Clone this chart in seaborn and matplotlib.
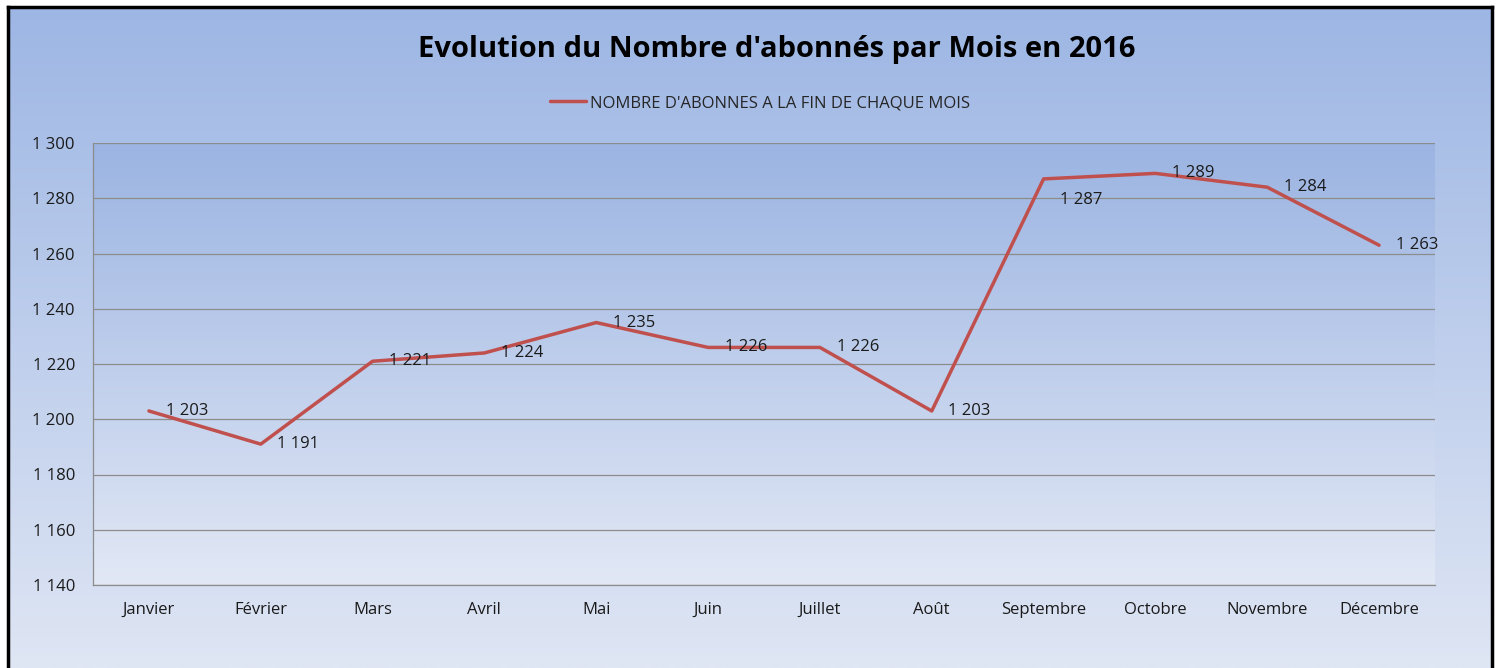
import matplotlib
matplotlib.use('Agg')
import numpy as np
import pandas as pd
import seaborn as sns
import matplotlib.pyplot as plt
from matplotlib.colors import LinearSegmentedColormap
from matplotlib.ticker import FuncFormatter, MultipleLocator

sns.set_style("white")
plt.rcParams['font.family'] = ['Open Sans', 'DejaVu Sans']

# --- Data ---
months = ['Janvier', 'Février', 'Mars', 'Avril', 'Mai', 'Juin', 'Juillet',
          'Août', 'Septembre', 'Octobre', 'Novembre', 'Décembre']
subscribers = [1203, 1191, 1221, 1224, 1235, 1226, 1226, 1203, 1287, 1289, 1284, 1263]
series_name = "NOMBRE D'ABONNES A LA FIN DE CHAQUE MOIS"

df = pd.DataFrame({'mois': months, 'abonnes': subscribers})


def fmt_thousands(v):
    v = int(v)
    return f"{v // 1000} {v % 1000:03d}"


fig = plt.figure(figsize=(14.98, 6.68), dpi=100)
fig.patch.set_facecolor('white')

# outer chart frame with vertical gradient
bg = fig.add_axes([8 / 1498, 0, (1492 - 8) / 1498, (668 - 7) / 668], zorder=0)
outer_cmap = LinearSegmentedColormap.from_list('outer', ['#9db6e4', '#dfe6f4'])
bg.imshow(np.linspace(0, 1, 256).reshape(-1, 1), cmap=outer_cmap, aspect='auto',
          extent=[0, 1, 0, 1])
bg.set_xticks([])
bg.set_yticks([])
for side in ['left', 'top', 'right']:
    bg.spines[side].set_color('black')
    bg.spines[side].set_linewidth(2.5)
bg.spines['bottom'].set_visible(False)

# plot area
ax = fig.add_axes([93 / 1498, 1 - 585 / 668, (1435 - 93) / 1498, (585 - 143) / 668], zorder=1)
plot_cmap = LinearSegmentedColormap.from_list('plot', ['#9bb4e2', '#e2e8f5'])
ax.imshow(np.linspace(0, 1, 256).reshape(-1, 1), cmap=plot_cmap, aspect='auto',
          extent=[0, 1, 0, 1], transform=ax.transAxes, zorder=0)

sns.lineplot(data=df, x='mois', y='abonnes', ax=ax, color='#c0504d', linewidth=2.5,
             sort=False, label=series_name, zorder=3)

# data labels to the right of each point (Septembre's sits a bit lower)
for i, v in enumerate(subscribers):
    dy = -15 if months[i] == 'Septembre' else 0
    ax.annotate(fmt_thousands(v), (i, v), xytext=(12, dy),
                textcoords='offset points', va='center', ha='left',
                fontsize=12, color='#1a1a1a', zorder=4)

ax.set_xlim(-0.5, 11.5)
ax.set_ylim(1140, 1300)
ax.yaxis.set_major_locator(MultipleLocator(20))
ax.yaxis.set_major_formatter(FuncFormatter(lambda y, p: fmt_thousands(y)))
ax.grid(axis='y', color='#8c8c8c', linewidth=0.9, zorder=1)
ax.set_axisbelow(False)
ax.tick_params(axis='y', length=0, pad=13, labelsize=12, labelcolor='#1a1a1a')
ax.tick_params(axis='x', length=0, pad=12, labelsize=12, labelcolor='#1a1a1a')
ax.set_xlabel('')
ax.set_ylabel('')
for side in ['top', 'right']:
    ax.spines[side].set_visible(False)
for side in ['left', 'bottom']:
    ax.spines[side].set_color('#8c8c8c')
    ax.spines[side].set_linewidth(0.9)
ax.patch.set_alpha(0)

ax.legend(loc='center', bbox_to_anchor=(760 / 1498, 1 - 103 / 668),
          bbox_transform=fig.transFigure, frameon=False, fontsize=12,
          handlelength=2.15, handletextpad=0.25)

fig.text(777 / 1498, 1 - 49 / 668, "Evolution du Nombre d'abonnés par Mois en 2016",
         ha='center', va='center', fontsize=21, fontweight='bold', color='black')

fig.savefig('out.png', dpi=100)
